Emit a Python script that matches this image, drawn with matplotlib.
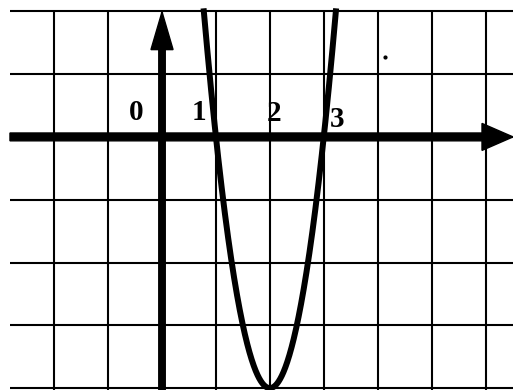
import numpy as np
import matplotlib.pyplot as plt

curve_x = [1, 2, 3]
curve_y = [0, -4, 0]

# grid lines
grid_x = [-2, -1, 0, 1, 2, 3, 4, 5, 6]
grid_y = [-4, -3, -2, -1, 0, 1, 2]

# numbers written along the x axis
tick_vals = [0, 1, 2, 3]
tick_labels = ['0', '1', '2', '3']
label_dx = [-0.48, -0.31, 0.08, 0.25]
label_y = [0.27, 0.27, 0.255, 0.16]

fig = plt.figure(figsize=(5.13, 3.9), dpi=100)
ax = fig.add_axes([0, 0, 1, 1])
ax.set_xlim(-3.005, 6.51)
ax.set_ylim(-4.03, 2.18)
ax.axis('off')

x_left = -2.82
ax.vlines(grid_x, -4.1, 2, colors='black', lw=1.5)
ax.hlines(grid_y, x_left, 6.6, colors='black', lw=1.5)

# axes with arrows
ax.arrow(x_left, 0, 6.51 - x_left, 0, width=0.125, head_width=0.43,
         head_length=0.575, length_includes_head=True, color='black', zorder=3)
ax.arrow(0, -4.1, 0, 1.99 + 4.1, width=0.12, head_width=0.41,
         head_length=0.6, length_includes_head=True, color='black', zorder=3)

# parabola
coef = np.polyfit(curve_x, curve_y, 2)
xs = np.linspace(0.5, 3.5, 600)
ys = np.polyval(coef, xs)
keep = ys <= 2.05
ax.plot(xs[keep], ys[keep], color='black', lw=4.3, solid_capstyle='butt', zorder=4)

for v, t, dx, y in zip(tick_vals, tick_labels, label_dx, label_y):
    ax.text(v + dx, y, t, ha='center', va='baseline', fontsize=21,
            fontweight='bold', family='Liberation Serif', zorder=5)

# small speck on the scan
ax.plot([4.14], [1.27], 'o', color='black', ms=2)

fig.savefig('out.png', dpi=100)
